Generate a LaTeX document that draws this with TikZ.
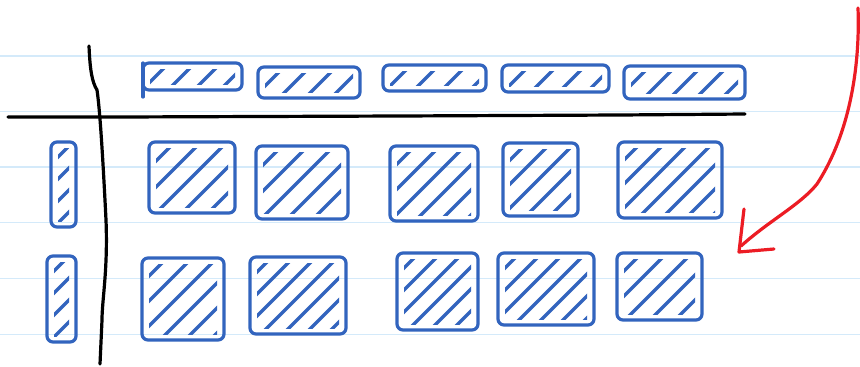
\documentclass[tikz,border=0pt]{standalone}
\definecolor{pen}{RGB}{50,100,190}
\definecolor{ruleblue}{RGB}{212,234,250}
\definecolor{redpen}{RGB}{236,28,36}
\tikzset{
  ink/.style={draw=pen, line width=3.2pt, line cap=round, line join=round},
  blackink/.style={draw=black, line width=3.2pt, line cap=round, line join=round},
  redink/.style={draw=redpen, line width=3.2pt, line cap=round, line join=round},
  paperline/.style={draw=ruleblue, line width=1.4pt}
}
% #1 x1, #2 y1, #3 x2, #4 y2, #5 hatch spacing
\newcommand\sketchcell[5]{%
  \draw[ink, rounded corners=6pt] (#1,#2) rectangle (#3,#4);
  \begin{scope}
    \clip (#1+7,#2+6) rectangle (#3-7,#4-6);
    \foreach \k in {1,...,14} {
      \draw[ink] ({#1+\k*#5-(#4-#2)},#4) -- ++({#4-#2},{-(#4-#2)});
    }
  \end{scope}}
\begin{document}
\begin{tikzpicture}[x=1pt,y=-1pt]
\useasboundingbox (0,0) rectangle (860,367);
\fill[white] (0,0) rectangle (860,367);
% ruled paper
\foreach \yy in {56,111.5,167,222.5,278.5,334.5}
  \draw[paperline] (0,\yy) -- (860,\yy);
% axes
\draw[blackink] (89,46) .. controls (90,70) and (92,82) .. (97,90)
  .. controls (100,110) and (103,160) .. (106,220)
  .. controls (108,270) and (102,300) .. (102,320) -- (100,364);
\draw[blackink] (8,117) -- (120,117) -- (400,116) -- (620,115) -- (745,114);
% header cells
\sketchcell{143}{63}{242}{90}{26}
\draw[ink] (143,63) -- (143,97);
\sketchcell{258}{67}{360}{98}{26}
\sketchcell{383}{65}{486}{91}{28}
\sketchcell{502}{65}{609}{92}{28}
\sketchcell{624}{66}{745}{99}{26}
% row headers
\sketchcell{51}{142}{76}{227}{22}
\sketchcell{47}{256}{76}{342}{22}
% row 1
\sketchcell{149}{142}{235}{213}{26}
\sketchcell{256}{146}{348}{219}{26}
\sketchcell{390}{146}{478}{221}{25}
\sketchcell{503}{143}{578}{216}{24}
\sketchcell{618}{142}{722}{218}{24}
% row 2
\sketchcell{142}{258}{224}{340}{25}
\sketchcell{250}{257}{346}{334}{22}
\sketchcell{397}{253}{478}{330}{22}
\sketchcell{498}{253}{594}{325}{22}
\sketchcell{617}{253}{702}{320}{25}
% red arrow
\draw[redink] (858,8) .. controls (860,60) and (852,130) .. (817,184)
  .. controls (800,205) and (770,220) .. (741,246);
\draw[redink] (744,209) -- (739,252) -- (774,249);
\end{tikzpicture}
\end{document}
